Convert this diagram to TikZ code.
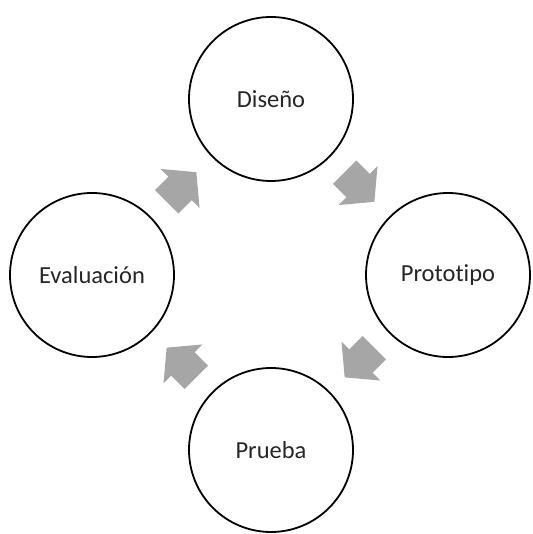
\documentclass[tikz,border=0pt]{standalone}
\usepackage{fontspec}
\setmainfont[Ligatures=CommonOff]{Carlito}
\usetikzlibrary{calc}
\tikzset{
  stage/.style={circle, draw=black, line width=1.8pt, fill=white, minimum size=164pt, inner sep=0pt, font=\fontsize{24.5}{28}\selectfont, text=black!85},
  cyclearrow/.style={fill=black!35, draw=none}
}
\newcommand{\blockarrow}[2]{%
  \fill[cyclearrow, shift={#1}, rotate=#2] (-21pt,16.5pt) -- (-2pt,16.5pt) -- (-2pt,27.5pt) -- (21pt,0pt) -- (-2pt,-27.5pt) -- (-2pt,-16.5pt) -- (-21pt,-16.5pt) -- cycle;}
\begin{document}
\begin{tikzpicture}[x=1pt,y=1pt]
\useasboundingbox (0,0) rectangle (532,534);
\node[stage] (dis) at (271,435) {Diseño};
\node[stage] (pro) at (448,259) {Prototipo};
\node[stage] (pru) at (271,84) {Prueba};
\node[stage] (eva) at (92,259) {Evaluación};
\blockarrow{($(dis)!0.5!(pro)$)}{-45}
\blockarrow{($(pro)!0.5!(pru)$)}{-135}
\blockarrow{($(pru)!0.5!(eva)$)}{135}
\blockarrow{($(eva)!0.5!(dis)$)}{45}
\end{tikzpicture}
\end{document}
